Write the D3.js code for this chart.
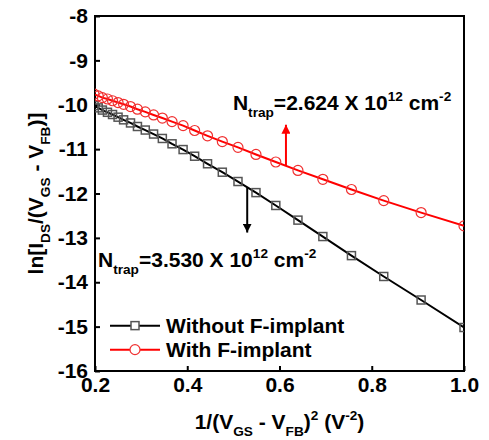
<!DOCTYPE html>
<html>
<head>
<meta charset="utf-8">
<script src="https://cdn.jsdelivr.net/npm/d3@7"></script>
<style>
body { margin: 0; background: #fff; }
text { font-family: Arial, "Liberation Sans", sans-serif; font-weight: bold; fill: #000; }
</style>
</head>
<body>
<svg width="489" height="440"></svg>
<script>
// 数据：x = 1/(VGS-VFB)^2
var xValues = [0.198, 0.207, 0.216, 0.227, 0.238, 0.250, 0.262, 0.277, 0.292, 0.309,
    0.327, 0.346, 0.367, 0.391, 0.416, 0.444, 0.476, 0.510, 0.549, 0.592,
    0.640, 0.694, 0.756, 0.826, 0.907, 1.000];

// Without F-implant
var withoutF = [-10.02, -10.07, -10.12, -10.17, -10.22, -10.28, -10.34, -10.41, -10.49, -10.57,
    -10.66, -10.76, -10.88, -11.01, -11.16, -11.33, -11.52, -11.73, -11.98, -12.27,
    -12.60, -12.97, -13.40, -13.87, -14.40, -15.02];

// With F-implant
var withF = [-9.76, -9.80, -9.84, -9.87, -9.91, -9.95, -9.99, -10.04, -10.10, -10.16,
    -10.23, -10.30, -10.38, -10.47, -10.58, -10.70, -10.83, -10.96, -11.12, -11.29,
    -11.48, -11.68, -11.91, -12.16, -12.43, -12.73];

var xTicks = [0.2, 0.4, 0.6, 0.8, 1.0];
var yTicks = [-8, -9, -10, -11, -12, -13, -14, -15, -16];
var legendLabels = ["Without F-implant", "With F-implant"];

// 画布和比例尺
var margin = {top: 16, right: 25, bottom: 69, left: 95},
    width = 489 - margin.left - margin.right,
    height = 440 - margin.top - margin.bottom;

var x = d3.scaleLinear().domain([0.2, 1.0]).range([0, width]);
var y = d3.scaleLinear().domain([-16, -8]).range([height, 0]);

var fs = 21;

var svg = d3.select("svg")
    .append("g")
    .attr("transform", "translate(" + margin.left + "," + margin.top + ")");

svg.append("clipPath").attr("id", "clip")
    .append("rect").attr("width", width).attr("height", height);

// 坐标轴
var xAxis = svg.append("g")
    .attr("transform", "translate(0," + height + ")")
    .call(d3.axisBottom(x).tickValues(xTicks).tickFormat(function (d) { return d.toFixed(1); })
        .tickSizeInner(-5).tickSizeOuter(0).tickPadding(6));
var yAxis = svg.append("g")
    .call(d3.axisLeft(y).tickValues(yTicks).tickFormat(function (d) { return String(d); })
        .tickSizeInner(-5).tickSizeOuter(0).tickPadding(7));

[xAxis, yAxis].forEach(function (a) {
    a.select(".domain").remove();
    a.selectAll("line").attr("stroke", "#000").attr("stroke-width", 2);
    a.selectAll("text").attr("font-size", fs)
        .style("font-family", "Arial, 'Liberation Sans', sans-serif").style("font-weight", "bold");
});

// 边框
svg.append("rect")
    .attr("width", width).attr("height", height)
    .attr("fill", "none").attr("stroke", "#000").attr("stroke-width", 2);

var series = [
    {name: legendLabels[0], values: withoutF, color: "#000", mark: "#555", shape: "square"},
    {name: legendLabels[1], values: withF, color: "#f00", mark: "#f03030", shape: "circle"}
];

var line = d3.line()
    .x(function (d) { return x(d[0]); })
    .y(function (d) { return y(d[1]); });

var plot = svg.append("g").attr("clip-path", "url(#clip)");

function drawMarker(g, shape, color) {
    if (shape === "square") {
        g.append("rect").attr("x", -4).attr("y", -4).attr("width", 8).attr("height", 8)
            .attr("fill", "none").attr("stroke", color).attr("stroke-width", 1.5);
    } else {
        g.append("circle").attr("r", 5)
            .attr("fill", "none").attr("stroke", color).attr("stroke-width", 1.2);
    }
}

series.forEach(function (s) {
    var pts = xValues.map(function (v, i) { return [v, s.values[i]]; });
    plot.append("path")
        .datum(pts)
        .attr("fill", "none")
        .attr("stroke", s.color)
        .attr("stroke-width", 2)
        .attr("d", line);
    plot.selectAll(".m-" + s.shape)
        .data(pts)
        .enter().append("g")
        .attr("class", "m-" + s.shape)
        .attr("transform", function (d) { return "translate(" + x(d[0]) + "," + y(d[1]) + ")"; })
        .each(function () { drawMarker(d3.select(this), s.shape, s.mark); });
});

// 箭头
svg.append("defs").selectAll("marker")
    .data([["arrRed", "#f00"], ["arrBlack", "#000"]])
    .enter().append("marker")
    .attr("id", function (d) { return d[0]; })
    .attr("viewBox", "0 0 10 10").attr("refX", 10).attr("refY", 5)
    .attr("markerWidth", 4.5).attr("markerHeight", 4.5).attr("orient", "auto")
    .append("path").attr("d", "M0,0L10,5L0,10Z").attr("fill", function (d) { return d[1]; });

svg.append("line")
    .attr("x1", x(0.614)).attr("x2", x(0.614))
    .attr("y1", y(-11.38)).attr("y2", y(-10.45))
    .attr("stroke", "#f00").attr("stroke-width", 2).attr("marker-end", "url(#arrRed)");
svg.append("line")
    .attr("x1", x(0.53)).attr("x2", x(0.53))
    .attr("y1", y(-11.86)).attr("y2", y(-12.88))
    .attr("stroke", "#000").attr("stroke-width", 2).attr("marker-end", "url(#arrBlack)");

// 富文本（下标、上标）
function richText(g, px, py, parts, size, anchor, rotate) {
    var t = g.append("text")
        .attr("font-size", size)
        .attr("text-anchor", anchor || "start")
        .attr("transform", "translate(" + px + "," + py + ")" + (rotate ? " rotate(-90)" : ""));
    var shift = 0;
    parts.forEach(function (p) {
        var target = p[1] === "sub" ? size * 0.32 : p[1] === "sup" ? -size * 0.42 : 0;
        t.append("tspan")
            .attr("dy", target - shift)
            .attr("font-size", p[1] ? size * 0.65 : size)
            .text(p[0]);
        shift = target;
    });
    return t;
}

richText(svg, x(0.499), y(-10.12),
    [["N"], ["trap", "sub"], ["=2.624 X 10"], ["12", "sup"], [" cm"], ["-2", "sup"]], fs);
richText(svg, x(0.2065), y(-13.66),
    [["N"], ["trap", "sub"], ["=3.530 X 10"], ["12", "sup"], [" cm"], ["-2", "sup"]], fs);

// 坐标轴标题
richText(svg, width / 2, height + 58,
    [["1/(V"], ["GS", "sub"], [" - V"], ["FB", "sub"], [")"], ["2", "sup"], [" (V"], ["-2", "sup"], [")"]],
    fs, "middle");
richText(svg, -52, height / 2,
    [["ln[I"], ["DS", "sub"], ["/(V"], ["GS", "sub"], [" - V"], ["FB", "sub"], [")]"]],
    fs, "middle", true);

// 图例
var legend = svg.selectAll(".legend")
    .data(series)
    .enter().append("g")
    .attr("class", "legend")
    .attr("transform", function (d, i) { return "translate(15," + (y(-15) - 1 + i * 24) + ")"; });

legend.append("line")
    .attr("x1", 0).attr("x2", 50)
    .attr("stroke", function (d) { return d.color; }).attr("stroke-width", 2);
legend.each(function (d) {
    var g = d3.select(this).append("g").attr("transform", "translate(25,0)");
    drawMarker(g, d.shape, d.mark);
    g.select("rect, circle").attr("fill", "#fff");
});
legend.append("text")
    .attr("x", 56).attr("dy", "0.36em")
    .attr("font-size", fs)
    .text(function (d) { return d.name; });
</script>
</body>
</html>
